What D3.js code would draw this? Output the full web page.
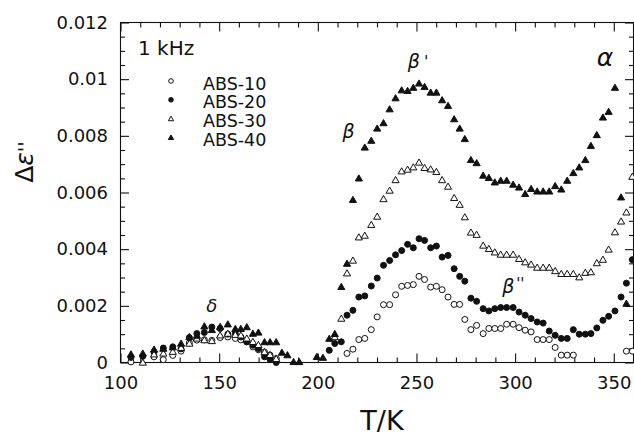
<!DOCTYPE html>
<html>
<head>
<meta charset="utf-8">
<script src="https://cdn.jsdelivr.net/npm/d3@7"></script>
<style>
  html, body { margin: 0; padding: 0; background: #fff; }
  svg { display: block; font-family: "DejaVu Sans", sans-serif; }
</style>
</head>
<body>
<svg id="chart" width="634" height="437"></svg>
<script>
// Dielectric loss increment at 1 kHz vs temperature for four ABS blends
const abs10T = [105.3,117.0,121.7,126.5,130.7,134.9,138.7,142.5,146.3,150.5,154.4,158.2,161.0,164.0,167.1,169.9,173.0,175.8,178.9,
  214.8,217.8,220.8,223.8,227.1,230.1,233.3,236.4,239.4,242.5,245.5,248.4,251.3,254.1,257.2,260.1,263.0,266.0,269.1,271.9,274.5,277.6,280.5,
  283.8,286.7,289.7,292.7,295.7,299.0,302.0,305.1,308.1,311.2,314.2,317.3,320.3,323.4,326.4,329.5,356.4,359.4];
const abs10V = [0.00002,0.00020,0.00010,0.00025,0.00040,0.00069,0.00079,0.00080,0.00078,0.00088,0.00090,0.00085,0.00080,0.00073,0.00055,0.00045,0.00037,0.00026,0.00014,
  0.00032,0.00047,0.00081,0.00085,0.00116,0.00161,0.00204,0.00204,0.00239,0.00269,0.00272,0.00275,0.00304,0.00293,0.00266,0.00269,0.00257,0.00231,0.00205,0.00205,0.00152,0.00116,0.00131,
  0.00102,0.00120,0.00120,0.00120,0.00135,0.00135,0.00123,0.00114,0.00108,0.00081,0.00081,0.00081,0.00053,0.00026,0.00026,0.00026,0.00040,0.00040];

const abs20T = [105.3,111.3,117.0,121.7,126.5,130.7,134.9,138.7,142.5,146.3,150.5,154.4,158.2,161.0,164.0,167.1,169.9,173.0,175.8,178.9,
  205.8,208.6,211.9,214.8,217.8,220.8,223.8,227.1,230.1,233.3,236.4,239.4,242.5,245.5,248.4,251.3,254.1,257.2,260.1,263.0,266.0,269.1,271.9,274.5,277.6,280.5,
  283.8,286.7,289.7,292.7,295.7,299.0,302.0,305.1,308.1,311.2,314.2,317.3,320.3,323.4,326.4,329.5,332.5,335.6,338.4,341.4,344.5,347.4,350.6,353.7,356.4,359.4];
const abs20V = [0.00018,0.00022,0.00037,0.00051,0.00055,0.00048,0.00088,0.00102,0.00106,0.00125,0.00120,0.00100,0.00102,0.00090,0.00073,0.00061,0.00049,0.00020,0.00011,0.00000,
  0.00043,0.00067,0.00073,0.00167,0.00184,0.00231,0.00235,0.00270,0.00298,0.00343,0.00360,0.00380,0.00395,0.00417,0.00405,0.00437,0.00431,0.00405,0.00411,0.00372,0.00378,0.00331,0.00304,0.00287,0.00227,0.00216,
  0.00190,0.00182,0.00190,0.00194,0.00194,0.00194,0.00178,0.00167,0.00155,0.00143,0.00139,0.00111,0.00096,0.00085,0.00085,0.00116,0.00100,0.00100,0.00102,0.00122,0.00149,0.00163,0.00182,0.00231,0.00280,0.00363];

const abs30T = [111.3,117.0,121.7,126.5,130.7,134.9,138.7,142.5,146.3,150.5,154.4,158.2,161.0,164.0,167.1,169.9,173.0,175.8,178.9,
  208.6,211.9,214.8,217.8,220.8,223.8,227.1,230.1,233.3,236.4,239.4,242.5,245.5,248.4,251.3,254.1,257.2,260.1,263.0,266.0,269.1,271.9,274.5,277.6,280.5,
  283.8,286.7,289.7,292.7,295.7,299.0,302.0,305.1,308.1,311.2,314.2,317.3,320.3,323.4,326.4,329.5,332.5,335.6,338.4,341.4,344.5,347.4,350.6,353.7,356.4,359.4];
const abs30V = [0.00000,0.00029,0.00032,0.00038,0.00052,0.00067,0.00085,0.00079,0.00076,0.00096,0.00102,0.00098,0.00096,0.00085,0.00073,0.00062,0.00037,0.00027,0.00013,
  0.00090,0.00155,0.00315,0.00360,0.00442,0.00448,0.00486,0.00515,0.00577,0.00607,0.00644,0.00675,0.00681,0.00689,0.00706,0.00687,0.00682,0.00673,0.00644,0.00621,0.00581,0.00557,0.00513,0.00459,0.00451,
  0.00413,0.00401,0.00389,0.00381,0.00381,0.00381,0.00366,0.00354,0.00346,0.00335,0.00335,0.00335,0.00323,0.00313,0.00313,0.00313,0.00301,0.00317,0.00319,0.00351,0.00363,0.00399,0.00460,0.00498,0.00530,0.00656];

const abs40T = [105.3,111.3,117.0,121.7,126.5,130.7,134.9,138.7,142.5,146.3,150.5,154.4,158.2,161.0,164.0,167.1,169.9,173.0,175.8,178.9,181.8,184.6,187.7,190.6,
  199.5,202.6,205.8,208.6,211.9,214.8,217.8,220.8,223.8,227.1,230.1,233.3,236.4,239.4,242.5,245.5,248.4,251.3,254.1,257.2,260.1,263.0,266.0,269.1,271.9,274.5,277.6,280.5,
  283.8,286.7,289.7,292.7,295.7,299.0,302.0,305.1,308.1,311.2,314.2,317.3,320.3,323.4,326.4,329.5,332.5,335.6,338.4,341.4,344.5,347.4,350.6,353.7,356.4];
const abs40V = [0.00029,0.00032,0.00046,0.00049,0.00054,0.00067,0.00090,0.00095,0.00128,0.00115,0.00126,0.00135,0.00119,0.00119,0.00125,0.00102,0.00106,0.00072,0.00072,0.00072,0.00035,0.00026,0.00002,0.00002,
  0.00020,0.00017,0.00084,0.00101,0.00267,0.00349,0.00574,0.00650,0.00759,0.00783,0.00826,0.00845,0.00894,0.00933,0.00961,0.00959,0.00970,0.00985,0.00973,0.00953,0.00953,0.00926,0.00906,0.00859,0.00826,0.00789,0.00715,0.00704,
  0.00660,0.00652,0.00636,0.00642,0.00642,0.00628,0.00618,0.00595,0.00613,0.00604,0.00604,0.00604,0.00623,0.00611,0.00642,0.00669,0.00689,0.00715,0.00765,0.00803,0.00865,0.00885,0.00970,0.00583,0.00208];

const seriesNames = ["ABS-10", "ABS-20", "ABS-30", "ABS-40"];
const xTicks = [100, 150, 200, 250, 300, 350];
const yTicks = [0, 0.002, 0.004, 0.006, 0.008, 0.01, 0.012];
const relaxLabels = [
  { text: "δ", t: 146.3, v: 0.00178 },
  { text: "β", t: 215.6, v: 0.00793 },
  { text: "β", t: 248.7, v: 0.01040 },
  { text: "β", t: 296.5, v: 0.00245 },
  { text: "α", t: 345.5, v: 0.01046 }
];

const series = [
  { name: seriesNames[0], T: abs10T, V: abs10V, shape: "circle", filled: false },
  { name: seriesNames[1], T: abs20T, V: abs20V, shape: "circle", filled: true },
  { name: seriesNames[2], T: abs30T, V: abs30V, shape: "triangle", filled: false },
  { name: seriesNames[3], T: abs40T, V: abs40V, shape: "triangle", filled: true }
];

const svg = d3.select("#chart");
const plotLeft = 120.5, plotRight = 633.5, plotTop = 22.5, plotBottom = 362.5;

const x = d3.scaleLinear().domain([100, 360]).range([plotLeft, plotRight]);
const y = d3.scaleLinear().domain([0, 0.012]).range([plotBottom, plotTop]);

const ink = "#111";

// frame
svg.append("rect")
  .attr("x", plotLeft).attr("y", plotTop)
  .attr("width", plotRight - plotLeft).attr("height", plotBottom - plotTop)
  .attr("fill", "none").attr("stroke", ink).attr("stroke-width", 1.1);

const minorX = d3.range(100, 361, 10).filter(v => v % 50 !== 0);
const minorY = d3.range(0, 12.01, 0.5).map(v => v / 1000).filter(v => Math.round(v * 1e4) % 20 !== 0);

function styleAxis(g) {
  g.select(".domain").remove();
  g.selectAll(".tick line").attr("stroke", ink).attr("stroke-width", 1.1);
  g.selectAll("text").attr("fill", ink).attr("font-size", 18)
    .attr("font-family", "'DejaVu Sans', sans-serif");
}

// bottom axis with labels, ticks pointing inward
svg.append("g").attr("transform", `translate(0,${plotBottom})`)
  .call(d3.axisBottom(x).tickValues(xTicks).tickSize(-9).tickPadding(14).tickFormat(d3.format("d")))
  .call(styleAxis);
svg.append("g").attr("transform", `translate(0,${plotBottom})`)
  .call(d3.axisBottom(x).tickValues(minorX).tickSize(-5).tickFormat(""))
  .call(styleAxis);
// top axis
svg.append("g").attr("transform", `translate(0,${plotTop})`)
  .call(d3.axisTop(x).tickValues(xTicks).tickSize(-9).tickFormat(""))
  .call(styleAxis);
svg.append("g").attr("transform", `translate(0,${plotTop})`)
  .call(d3.axisTop(x).tickValues(minorX).tickSize(-5).tickFormat(""))
  .call(styleAxis);
// left axis with labels
svg.append("g").attr("transform", `translate(${plotLeft},0)`)
  .call(d3.axisLeft(y).tickValues(yTicks).tickSize(-8.5).tickPadding(12.5)
    .tickFormat(d => d === 0 ? "0" : String(+d.toFixed(3))))
  .call(styleAxis);
svg.append("g").attr("transform", `translate(${plotLeft},0)`)
  .call(d3.axisLeft(y).tickValues(minorY).tickSize(-4.5).tickFormat(""))
  .call(styleAxis);
// right axis
svg.append("g").attr("transform", `translate(${plotRight},0)`)
  .call(d3.axisRight(y).tickValues(yTicks).tickSize(-8.5).tickFormat(""))
  .call(styleAxis);
svg.append("g").attr("transform", `translate(${plotRight},0)`)
  .call(d3.axisRight(y).tickValues(minorY).tickSize(-4.5).tickFormat(""))
  .call(styleAxis);

// axis titles
svg.append("text")
  .attr("x", (plotLeft + plotRight) / 2 + 5).attr("y", 430)
  .attr("text-anchor", "middle").attr("font-size", 27).attr("fill", ink)
  .text("T/K");

const yTitle = svg.append("text")
  .attr("transform", "translate(33,162) rotate(-90)")
  .attr("text-anchor", "middle").attr("font-size", 25).attr("fill", ink);
yTitle.append("tspan").text("Δ");
yTitle.append("tspan").attr("font-style", "italic").text("ε");
yTitle.append("tspan").attr("font-size", 20).attr("dy", -1).text("''");

// markers
const triangle = d3.symbol().type(d3.symbolTriangle);
function drawMarks(g, s, px, py, r, triSize) {
  if (s.shape === "circle") {
    g.append("circle").attr("cx", px).attr("cy", py).attr("r", r)
      .attr("fill", s.filled ? ink : "#fff").attr("stroke", ink).attr("stroke-width", 1);
  } else {
    g.append("path").attr("d", triangle.size(triSize)())
      .attr("transform", `translate(${px},${py + 0.6})`)
      .attr("fill", s.filled ? ink : "#fff").attr("stroke", ink).attr("stroke-width", 1)
      .attr("stroke-linejoin", "miter");
  }
}

const marks = svg.append("g");
series.forEach(s => {
  const g = marks.append("g").attr("class", "series");
  s.T.forEach((t, i) => drawMarks(g, s, x(t), y(s.V[i]), 3, 22));
});

// legend
const legend = svg.append("g");
legend.append("text").attr("x", 138).attr("y", 55)
  .attr("font-size", 20).attr("fill", ink).text("1 kHz");
series.forEach((s, i) => {
  const cy = 81 + i * 18.8;
  drawMarks(legend, s, 171, cy, 2.3, 12);
  legend.append("text").attr("x", 203).attr("y", cy + 8.5)
    .attr("font-size", 17.5).attr("fill", ink).text(s.name);
});

// relaxation labels
const lab = svg.append("g").attr("fill", ink).attr("font-style", "italic");
lab.append("text").attr("x", x(relaxLabels[0].t)).attr("y", y(relaxLabels[0].v))
  .attr("text-anchor", "middle").attr("font-size", 18).text(relaxLabels[0].text);
lab.append("text").attr("x", x(relaxLabels[1].t)).attr("y", y(relaxLabels[1].v))
  .attr("text-anchor", "middle").attr("font-size", 19).text(relaxLabels[1].text);
lab.append("text").attr("x", x(relaxLabels[2].t)).attr("y", y(relaxLabels[2].v))
  .attr("text-anchor", "middle").attr("font-size", 19).text(relaxLabels[2].text);
lab.append("text").attr("x", x(relaxLabels[2].t) + 10).attr("y", y(relaxLabels[2].v) - 1)
  .attr("font-style", "normal").attr("font-size", 16).text("'");
lab.append("text").attr("x", x(relaxLabels[3].t)).attr("y", y(relaxLabels[3].v))
  .attr("text-anchor", "middle").attr("font-size", 19).text(relaxLabels[3].text);
lab.append("text").attr("x", x(relaxLabels[3].t) + 8).attr("y", y(relaxLabels[3].v) - 4)
  .attr("font-style", "normal").attr("font-size", 15).text("''");
lab.append("text").attr("x", x(relaxLabels[4].t)).attr("y", y(relaxLabels[4].v))
  .attr("text-anchor", "middle").attr("font-size", 25).text(relaxLabels[4].text);
</script>
</body>
</html>
